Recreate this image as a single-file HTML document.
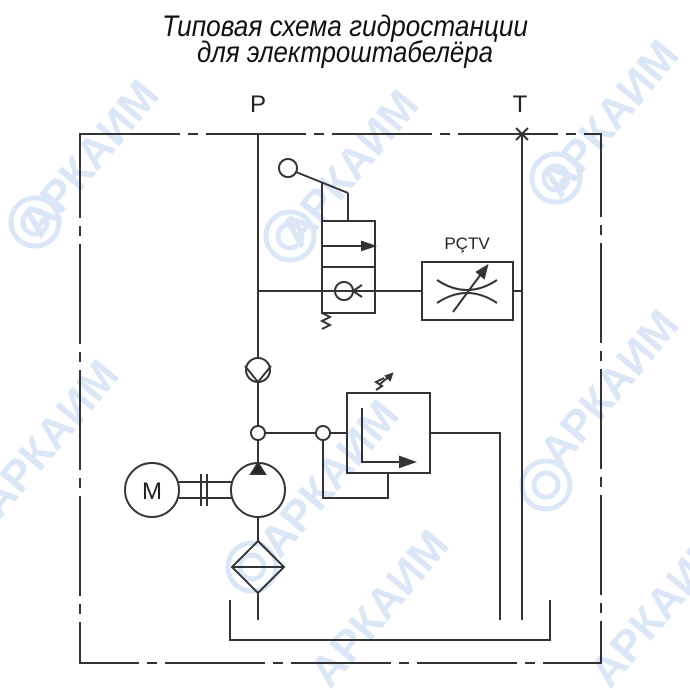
<!DOCTYPE html>
<html><head><meta charset="utf-8"><style>
html,body{margin:0;padding:0;background:#fff;width:690px;height:690px;overflow:hidden;}
svg{display:block;overflow:hidden}
</style></head><body>
<svg width="690" height="690" viewBox="0 0 690 690" xmlns="http://www.w3.org/2000/svg">
<defs><clipPath id="c"><rect x="0" y="0" width="690" height="690"/></clipPath></defs>
<g clip-path="url(#c)">
<g fill="#dbe6f7" font-family="Liberation Sans, DejaVu Sans, sans-serif" font-weight="bold" font-size="44">
<text transform="translate(40,240) rotate(-50)">АРКАИМ</text>
<text transform="translate(300,250) rotate(-50)">АРКАИМ</text>
<text transform="translate(560,200) rotate(-50)">АРКАИМ</text>
<text transform="translate(0,520) rotate(-50)">АРКАИМ</text>
<text transform="translate(280,560) rotate(-50)">АРКАИМ</text>
<text transform="translate(560,470) rotate(-50)">АРКАИМ</text>
<text transform="translate(330,690) rotate(-50)">АРКАИМ</text>
<text transform="translate(610,690) rotate(-50)">АРКАИМ</text>
</g>
<g fill="none" stroke="#dbe6f7" stroke-width="5">
<circle cx="35" cy="222" r="24"/><circle cx="35" cy="222" r="12"/>
<circle cx="290" cy="236" r="24"/><circle cx="290" cy="236" r="12"/>
<circle cx="556" cy="178" r="24"/><circle cx="556" cy="178" r="12"/>
<circle cx="546" cy="485" r="24"/><circle cx="546" cy="485" r="12"/>
<circle cx="252" cy="567" r="24"/><circle cx="252" cy="567" r="12"/>
</g>
</g>
<g font-family="Liberation Sans Narrow, Liberation Sans, sans-serif" font-size="30" fill="#111" font-style="italic" text-anchor="middle">
<text x="345" y="36" textLength="366" lengthAdjust="spacingAndGlyphs">Типовая схема гидростанции</text>
<text x="345" y="62" textLength="296" lengthAdjust="spacingAndGlyphs">для электроштабелёра</text>
</g>
<g font-family="Liberation Sans, sans-serif" font-size="24" fill="#222" text-anchor="middle">
<text x="258" y="112">P</text>
<text x="520" y="112">T</text>
</g>
<text x="467" y="249" font-family="Liberation Sans, sans-serif" font-size="17" fill="#222" text-anchor="middle">PÇTV</text>
<rect x="80" y="134" width="521" height="529" fill="none" stroke="#333" stroke-width="2" stroke-dasharray="100 8 10 8"/>
<g stroke="#333" stroke-width="2" fill="none">
<path d="M516 128 L528 140 M528 128 L516 140"/>
<path d="M258 134 V358 M258 382 V426 M258 440 V463"/>
<path d="M522 134 V620"/>
<path d="M258 291 H422 M513 291 H522"/>
<rect x="322" y="221" width="53" height="46"/>
<rect x="322" y="267" width="53" height="46"/>
<path d="M322 246 H362"/>
<path d="M375 221 V267"/>
<path d="M362 242 L374 246 L362 250 Z" fill="#333"/>
<circle cx="344" cy="291" r="9"/>
<path d="M353 291 L362 285 M353 291 L362 297"/>
<path d="M322 183 V221 M348 193 V221"/>
<circle cx="288" cy="168" r="9"/>
<path d="M296 172 L348 193"/>
<path d="M322 313 L330 317 L322 321 L330 325 L322 329"/>
<rect x="422" y="262" width="91" height="58"/>
<path d="M437 280 Q467 300 497 280 M437 303 Q467 283 497 303"/>
<path d="M453 312 L484 270"/>
<path d="M487 266 L477 272 L484 278 Z" fill="#333"/>
<circle cx="258" cy="370" r="12"/>
<path d="M245 366 L258 382 L271 366"/>
<circle cx="258" cy="433" r="7" fill="#fff"/>
<circle cx="323" cy="433" r="7" fill="#fff"/>
<path d="M265 433 H316 M330 433 H347"/>
<rect x="347" y="393" width="83" height="80"/>
<path d="M362 408 V462 H410"/>
<path d="M400 457 L414 462 L400 467 Z" fill="#333"/>
<path d="M323 440 V498 H388 V473"/>
<path d="M430 433 H500 V620"/>
<path d="M376 390 L382 386 L376 382 L384 378 M380 384 L392 374"/>
<path d="M392 374 L386 376 L390 380 Z" fill="#333"/>
<circle cx="152" cy="490" r="27"/>
<circle cx="258" cy="490" r="27"/>
<path d="M179 482 H232 M179 498 H232 M201 474 V506 M207 474 V506"/>
<path d="M251 474 L258 463 L265 474 Z" fill="#222"/>
<path d="M258 517 V541"/>
<path d="M258 541 L284 567 L258 593 L232 567 Z M232 567 H284 M258 593 V620"/>
<path d="M230 600 V640 H550 V600"/>
</g>
<text x="152" y="499" font-family="Liberation Sans, sans-serif" font-size="24" fill="#222" text-anchor="middle">M</text>
</svg>
</body></html>
